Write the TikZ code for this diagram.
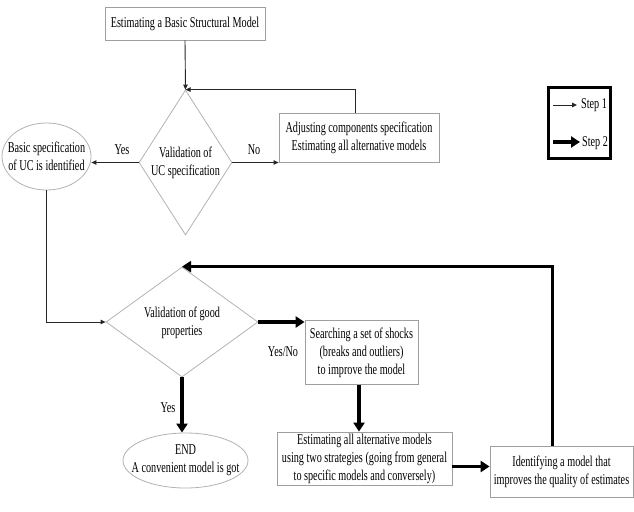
\documentclass[tikz,border=0pt]{standalone}
\usepackage{fontspec}
\setmainfont{Liberation Serif}[FakeStretch=0.68]
\usetikzlibrary{shapes.geometric,arrows.meta}
\tikzset{
  box/.style={draw=gray!75, line width=0.8pt, fill=white, align=center, inner sep=1pt},
  dia/.style={diamond, draw=gray!60, line width=0.8pt, inner sep=0pt},
  ell/.style={ellipse, draw=gray!60, line width=0.8pt, inner sep=0pt},
  txt/.style={align=center, inner sep=0pt},
  thinarr/.style={draw=black!85, line width=0.9pt, -{Triangle[length=5pt,width=4.5pt]}},
  thickarr/.style={draw=black, line width=3.2pt, -{Triangle[length=9pt,width=11pt]}},
  lbl/.style={inner sep=0pt}
}
\begin{document}
\begin{tikzpicture}[x=1pt,y=-1pt, font=\fontsize{15}{18}\selectfont]
\useasboundingbox (0,0) rectangle (634,511);
\node[box, minimum width=160pt, minimum height=33pt] (bsm) at (185,23.5) {Estimating a Basic Structural Model};
\node[dia, minimum width=93pt, minimum height=145pt] (d1) at (185.5,162.5) {};
\node[txt] (d1t) at (d1.center) {Validation of\\UC specification};
\node[box, minimum width=160pt, minimum height=49pt] (adj) at (359,137.5) {Adjusting components specification\\Estimating all alternative models};
\node[ell, minimum width=89pt, minimum height=67pt] (e1) at (46.5,156.5) {};
\node[txt] (e1t) at (e1.center) {Basic specification\\of UC is identified};
\node[dia, minimum width=152pt, minimum height=110pt] (d2) at (182,322) {};
\node[txt] (d2t) at ([yshift=-1pt]d2.center) {Validation of good\\properties};
\node[box, minimum width=113pt, minimum height=64pt] (srch) at (361.5,352.5) {Searching a set of shocks\\(breaks and outliers)\\to improve the model};
\node[ell, minimum width=125pt, minimum height=55pt] (endn) at (185.5,460.5) {};
\node[txt] (endt) at (endn.center) {END\\A convenient model is got};
\node[box, minimum width=175pt, minimum height=53pt] (est) at (364.5,458.5) {Estimating all alternative models\\using two strategies (going from general\\to specific models and conversely)};
\node[box, minimum width=143pt, minimum height=51pt] (ident) at (561.5,471.5) {Identifying a model that\\improves the quality of estimates};
\node[draw=black, line width=2.6pt, minimum width=62pt, minimum height=71pt] (leg) at (579.5,123) {};

% connectors, step 1
\draw[thinarr] (bsm.south) -- (d1.north);
\draw[thinarr] ([xshift=-4pt]adj.north) |- (d1.north);
\draw[thinarr] (d1.west) -- (d1.west -| e1.east);
\draw[thinarr] (d1.east) -- (d1.east -| adj.west);
\draw[thinarr] (e1.south) |- (d2.west);
% step 2
\draw[thickarr] (d2.east) -- (d2.east -| srch.west);
\draw[thickarr] (d2.south) -- (d2.south |- endn.north);
\draw[thickarr] ([xshift=-2.5pt]srch.south) -- ([xshift=-2.5pt]srch.south |- est.north);
\draw[thickarr] ([yshift=-8pt]est.east) -- ([yshift=-8pt]est.east -| ident.west);
\draw[thickarr] ([xshift=-9pt]ident.north) |- (d2.north);

% labels
\node[lbl] (ly1) at (122,150) {Yes};
\node[lbl] (ln1) at (254,150) {No};
\node[lbl] (lyn) at (283,352) {Yes/No};
\node[lbl] (ly2) at (168,408) {Yes};

% legend
\coordinate (s1a) at (553,105);
\coordinate (s1b) at (577,105);
\coordinate (s2a) at (553,142);
\coordinate (s2b) at (580,142);
\draw[thinarr] (s1a) -- (s1b);
\draw[thickarr] (s2a) -- (s2b);
\node[lbl] (st1) at (594,105) {Step 1};
\node[lbl] (st2) at (595,143) {Step 2};
\end{tikzpicture}
\end{document}
